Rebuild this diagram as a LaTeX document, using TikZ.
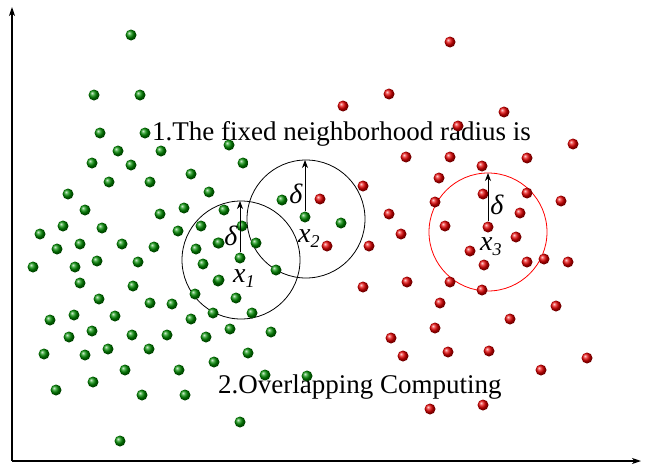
\documentclass[tikz,border=0pt]{standalone}
\usepackage{fontspec}
\setmainfont{Liberation Serif}
\usetikzlibrary{arrows.meta}
\begin{document}
\begin{tikzpicture}[x=1pt,y=-1pt,
  gdot/.style={circle,inner sep=0pt,minimum size=11pt,shading=ball,ball color=green!55!black},
  rdot/.style={circle,inner sep=0pt,minimum size=11pt,shading=ball,ball color=red!90!black},
  axis/.style={line width=1.1pt,-{Stealth[length=9pt,width=6pt,inset=2.5pt]}},
  nbr/.style={line width=0.8pt},
  rad/.style={line width=0.8pt,-{Stealth[length=8pt,width=6pt,inset=2.5pt]}},
  bigtext/.style={inner sep=0pt,font=\fontsize{27}{30}\selectfont},
  lab/.style={inner sep=0pt,font=\fontsize{28}{30}\selectfont\itshape}]
\useasboundingbox (0,0) rectangle (645,471);
% axes
\coordinate (o) at (12,461);
\coordinate (ytop) at (12,7);
\coordinate (xend) at (641,461);
\draw[axis] (o) -- (ytop);
\draw[axis] (o) -- (xend);
% texts
\node[bigtext,anchor=base west] (t1) at (152,140) {1.The fixed neighborhood radius is};
\node[bigtext,anchor=base west] (t2) at (218,393) {2.Overlapping Computing};
% neighbourhood circles
\node[nbr,draw=black,circle,minimum size=118pt,inner sep=0pt] (c1) at (241,260) {};
\node[nbr,draw=black,circle,minimum size=118pt,inner sep=0pt] (c2) at (306,219) {};
\node[nbr,draw=red,circle,minimum size=118pt,inner sep=0pt] (c3) at (488,232) {};
% green dots
\foreach \x/\y [count=\i] in {131/35,94/95,140/95,100/133,145/133,118/151,161/151,92/163,131/165,191/174,
  109/182,150/182,68/194,209/192,85/210,184/208,160/214,201/226,63/226,102/228,40/234,178/231,
  57/249,80/244,122/244,154/247,196/249,218/243,33/267,75/267,97/261,138/262,203/264,80/283,
  133/286,218/281,99/299,150/303,172/304,195/294,50/320,74/315,115/316,191/319,213/313,69/337,
  92/331,132/335,167/335,206/337,44/354,85/355,108/349,149/349,214/362,125/370,179/370,56/390,
  93/382,142/395,185/395,120/441,229/145,243/163,224/210,242/226,219/243,256/243,282/200,341/223,
  276/270,219/280,236/298,252/313,230/329,271/332,248/353,265/375,307/376,240/422}
  \node[gdot] (g\i) at (\x,\y) {};
% red dots
\foreach \x/\y [count=\i] in {450/42,389/94,343/106,504/112,458/126,573/144,406/157,450/157,527/158,
  482/166,439/178,363/186,527/193,483/194,435/202,561/201,520/213,389/214,445/226,401/234,516/237,
  320/199,327/246,369/246,363/287,470/251,484/265,527/262,544/259,568/262,407/282,450/282,482/290,
  440/303,556/306,510/319,435/328,391/338,403/356,448/352,489/351,587/358,541/370,430/409,483/405}
  \node[rdot] (r\i) at (\x,\y) {};
% centre points
\node[gdot] (x1) at (240,258) {};
\node[gdot] (x2) at (305,217) {};
\node[rdot] (x3) at (488,227) {};
% radius arrows
\coordinate (top1) at (240,201);
\coordinate (top2) at (305,160);
\coordinate (top3) at (488,173);
\draw[rad] (x1.north) -- (top1);
\draw[rad] (x2.north) -- (top2);
\draw[rad] (x3.north) -- (top3);
% labels
\node[lab] (d1) at (231,236) {δ};
\node[lab] (d2) at (296,194) {δ};
\node[lab] (d3) at (497,205) {δ};
\node[lab,anchor=base west] (l1) at (233,282) {x\raisebox{-5pt}{\fontsize{18}{18}\selectfont 1}};
\node[lab,anchor=base west] (l2) at (298,242) {x\raisebox{-5pt}{\fontsize{18}{18}\selectfont 2}};
\node[lab,anchor=base west] (l3) at (480,250) {x\raisebox{-5pt}{\fontsize{18}{18}\selectfont 3}};
\end{tikzpicture}
\end{document}
